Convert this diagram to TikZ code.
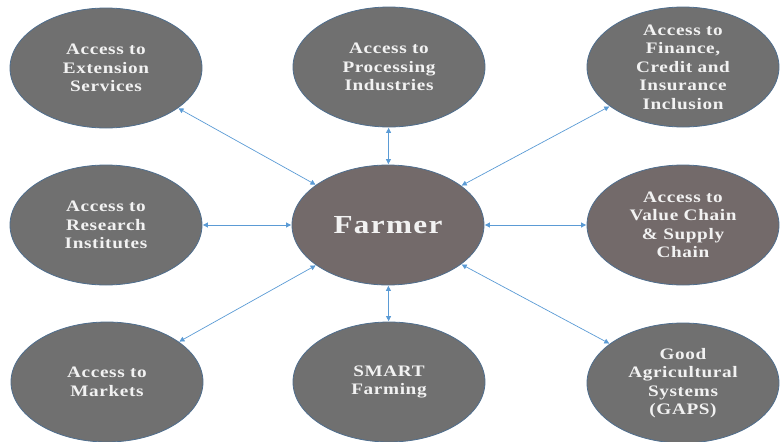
\documentclass[tikz,border=0pt]{standalone}
\usepackage{fontspec}
\newfontfamily\labfont[FakeStretch=1.2,LetterSpace=4]{Liberation Serif}
\newfontfamily\farmfont[FakeStretch=1.2,LetterSpace=5]{Liberation Serif}
\usetikzlibrary{shapes.geometric,arrows.meta}
\definecolor{ellgray}{HTML}{707070}
\definecolor{ellbrown}{HTML}{736A6A}
\definecolor{ellline}{HTML}{4F6E8E}
\definecolor{arr}{HTML}{5B9BD5}
\definecolor{txt}{HTML}{F2F2F2}
\tikzset{
  bubble/.style={ellipse, draw=ellline, line width=0.8pt, fill=ellgray,
    minimum width=192pt, minimum height=120pt, inner sep=0pt,
    text=txt, align=center, font=\labfont\bfseries\fontsize{16}{18.5}\selectfont},
  hub/.style={bubble, fill=ellbrown, font=\farmfont\bfseries\fontsize{26}{30}\selectfont},
  link/.style={draw=arr, line width=0.7pt, {Triangle[length=5pt,width=5pt]}-{Triangle[length=5pt,width=5pt]}, shorten <=0.5pt, shorten >=0.5pt}
}
\begin{document}
\begin{tikzpicture}[x=1pt,y=-1pt]
\useasboundingbox (0,0) rectangle (780,442);
\node[hub] (farmer) at (388,225) {Farmer};
\node[bubble] (ext) at (106,68) {Access to\\Extension\\Services};
\node[bubble] (proc) at (389,67) {Access to\\Processing\\Industries};
\node[bubble] (fin) at (683,67) {Access to\\Finance,\\Credit and\\Insurance\\Inclusion};
\node[bubble] (res) at (106,225) {Access to\\Research\\Institutes};
\node[bubble, fill=ellbrown] (val) at (683,225) {Access to\\Value Chain\\\& Supply\\Chain};
\node[bubble] (mkt) at (107,382) {Access to\\Markets};
\node[bubble] (smart) at (389,382) {SMART\\Farming};
\node[bubble] (gaps) at (683,383) {Good\\Agricultural\\Systems\\(GAPS)};
\draw[link] (ext) -- (farmer);
\draw[link] (proc) -- (farmer);
\draw[link] (fin) -- (farmer);
\draw[link] (res) -- (farmer);
\draw[link] (val) -- (farmer);
\draw[link] (mkt) -- (farmer);
\draw[link] (smart) -- (farmer);
\draw[link] (gaps) -- (farmer);
\end{tikzpicture}
\end{document}
